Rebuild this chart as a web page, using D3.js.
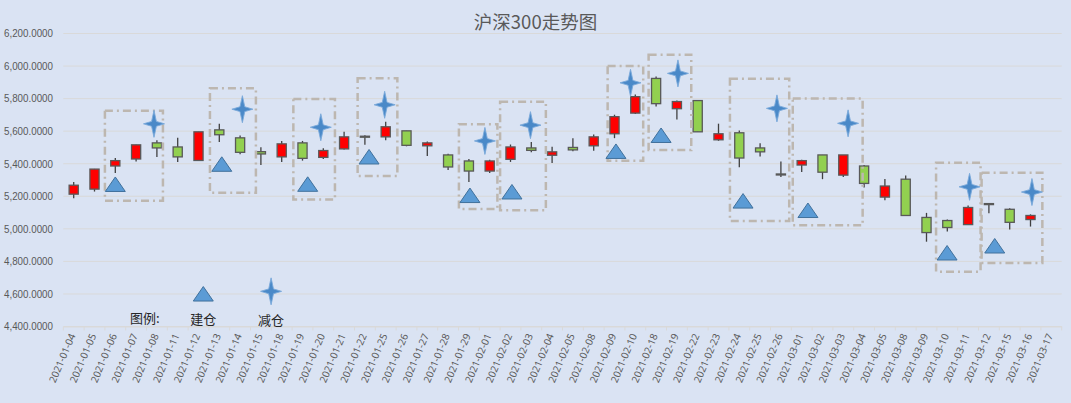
<!DOCTYPE html>
<html><head><meta charset="utf-8">
<script src="https://cdn.jsdelivr.net/npm/d3@7/dist/d3.min.js"></script>
<style>
body{margin:0;background:#DAE3F3;overflow:hidden}
svg{display:block}
</style>
</head><body>
<svg id="chart" width="1071" height="403"></svg>
<script>
// ---------- data ----------
const title = "沪深300走势图";
const dates = ["2021-01-04","2021-01-05","2021-01-06","2021-01-07","2021-01-08","2021-01-11","2021-01-12","2021-01-13","2021-01-14","2021-01-15",
"2021-01-18","2021-01-19","2021-01-20","2021-01-21","2021-01-22","2021-01-25","2021-01-26","2021-01-27","2021-01-28","2021-01-29",
"2021-02-01","2021-02-02","2021-02-03","2021-02-04","2021-02-05","2021-02-08","2021-02-09","2021-02-10","2021-02-18","2021-02-19",
"2021-02-22","2021-02-23","2021-02-24","2021-02-25","2021-02-26","2021-03-01","2021-03-02","2021-03-03","2021-03-04","2021-03-05",
"2021-03-08","2021-03-09","2021-03-10","2021-03-11","2021-03-12","2021-03-15","2021-03-16","2021-03-17"];
const opens  = [5213,5244,5386,5429,5528,5503,5420,5608,5559,5474, 5442,5528,5439,5491,5569,5565,5602,5510,5454,5417,
                5355,5427,5497,5452,5500,5510,5584,5711,5924,5738, 5788,5547,5590,5497,5337,5392,5454,5330,5386,5195,
                5305,5070,5051,5026,5155,5120,5057,null];
const highs  = [5287,5368,5435,5516,5544,5559,5596,5646,5573,5501, 5540,5540,5495,5596,5575,5658,5602,5536,5462,5429,
                5425,5518,5534,5505,5556,5579,5701,5825,5936,5788, 5788,5646,5604,5526,5414,5425,5454,5454,5392,5306,
                5327,5098,5057,5144,5155,5126,5089,null];
const lows   = [5188,5229,5343,5414,5442,5411,5417,5534,5458,5392, 5411,5419,5429,5487,5516,5544,5507,5448,5361,5287,
                5343,5411,5470,5404,5476,5479,5557,5705,5752,5672, 5596,5541,5379,5445,5318,5349,5305,5318,5254,5176,
                5082,4921,4983,5026,5096,4996,5014,null];
const closes = [5268,5367,5419,5516,5497,5442,5596,5578,5470,5460, 5522,5433,5481,5565,5569,5627,5513,5528,5380,5355,
                5417,5503,5482,5473,5485,5565,5689,5812,5769,5782, 5596,5584,5435,5473,5336,5419,5348,5454,5279,5263,
                5082,4977,5008,5131,5154,5040,5082,null];
const yTicks = [4400,4600,4800,5000,5200,5400,5600,5800,6000,6200];

// 建仓 markers: category position (fractional index) and value
const buyPos = [2.0, 7.12, 11.25, 14.2, 19.05, 21.07, 26.07, 28.24, 32.18, 35.3, 41.99, 44.28];
const buyVal = [5274, 5398, 5275, 5443, 5206, 5228, 5477, 5575, 5172, 5114, 4853, 4896];
// 减仓 markers
const sellPos = [3.86, 8.11, 11.88, 14.95, 19.77, 21.96, 26.77, 29.05, 33.81, 37.23, 43.07, 46.07];
const sellVal = [5645, 5735, 5624, 5762, 5540, 5637, 5897, 5955, 5740, 5648, 5258, 5226];
// dashed boxes: from/to category position, top/bottom value
const boxFrom   = [1.50, 6.55, 10.56, 13.65, 18.52, 20.50, 25.67, 27.64, 31.55, 34.57, 41.46, 43.65];
const boxTo     = [4.29, 8.76, 12.56, 15.56, 20.37, 22.70, 27.38, 29.69, 34.40, 37.93, 43.60, 46.57];
const boxTop    = [5726, 5863, 5798, 5925, 5642, 5781, 6000, 6070, 5922, 5800, 5406, 5345];
const boxBottom = [5173, 5222, 5180, 5325, 5122, 5114, 5419, 5484, 5048, 5022, 4737, 4790];
// legend
const legendLabel = "图例:";
const legendNames = ["建仓", "减仓"];
const legendPos = [6.23, 9.49];
const legendVal = [4601, 4616];

// ---------- layout ----------
const W = 1071, H = 403;
const L = 63.3, R = 1061.7, T = 33.5, B = 326.5;
const svg = d3.select("#chart");
svg.append("rect").attr("width", W).attr("height", H).attr("fill", "#DAE3F3");

const x = d3.scaleBand().domain(dates).range([L, R]).padding(0);
const xp = d3.scaleLinear().domain([-0.5, dates.length - 0.5]).range([L, R]);
const y = d3.scaleLinear().domain([4400, 6200]).range([B, T]);

// gridlines
svg.append("g").selectAll("line").data(yTicks).join("line")
  .attr("x1", L).attr("x2", R)
  .attr("y1", d => y(d)).attr("y2", d => y(d))
  .attr("stroke", "#D9D9D9").attr("stroke-width", 1);

// y axis labels
const fmt = d3.format(",.4f");
const yl = svg.append("g").selectAll("text").data(yTicks).join("text")
  .attr("x", 53).attr("y", d => y(d)).attr("dy", "0.35em")
  .attr("text-anchor", "end")
  .style("font-family", "'Liberation Sans Narrow','Liberation Sans',Arial,sans-serif")
  .style("font-size", "11px").attr("fill", "#595959")
  .text(d => fmt(d));
const wy = yl.node().getComputedTextLength();
if (wy > 50) yl.attr("textLength", 49).attr("lengthAdjust", "spacingAndGlyphs");

// x axis
const xAxis = svg.append("g").attr("transform", `translate(0,${B})`)
  .call(d3.axisBottom(x).tickSize(0).tickSizeOuter(0));
xAxis.select(".domain").attr("stroke", "#D9D9D9");
xAxis.selectAll(".tick text")
  .attr("x", 2).attr("y", 9).attr("dy", 0)
  .attr("text-anchor", "end")
  .attr("transform", "rotate(-67,2,9)")
  .style("font-family", "'Noto Sans',sans-serif").style("font-size", "10px")
  .attr("fill", "#595959");
svg.append("g").selectAll("line").data(d3.range(dates.length + 1)).join("line")
  .attr("x1", i => xp(i - 0.5)).attr("x2", i => xp(i - 0.5))
  .attr("y1", B).attr("y2", B + 4)
  .attr("stroke", "#D9D9D9").attr("stroke-width", 1);

// candles
const idx = d3.range(dates.length).filter(i => opens[i] != null);
const bw = x.bandwidth() * 0.44;
const cg = svg.append("g");
cg.selectAll("line").data(idx).join("line")
  .attr("x1", i => x(dates[i]) + x.bandwidth() / 2)
  .attr("x2", i => x(dates[i]) + x.bandwidth() / 2)
  .attr("y1", i => y(highs[i])).attr("y2", i => y(lows[i]))
  .attr("stroke", "#404040").attr("stroke-width", 1.3);
cg.selectAll("rect").data(idx).join("rect")
  .attr("x", i => x(dates[i]) + x.bandwidth() / 2 - bw / 2)
  .attr("width", bw)
  .attr("y", i => y(Math.max(opens[i], closes[i])))
  .attr("height", i => Math.max(1, Math.abs(y(opens[i]) - y(closes[i]))))
  .attr("fill", i => closes[i] > opens[i] ? "#FF0000" : "#92D050")
  .attr("stroke", "#595959").attr("stroke-width", 1.3);

// dashed boxes
svg.append("g").selectAll("rect").data(d3.range(boxFrom.length)).join("rect")
  .attr("x", i => xp(boxFrom[i])).attr("width", i => xp(boxTo[i]) - xp(boxFrom[i]))
  .attr("y", i => y(boxTop[i])).attr("height", i => y(boxBottom[i]) - y(boxTop[i]))
  .attr("fill", "none").attr("stroke", "#BDB7B0").attr("stroke-width", 2.5)
  .attr("stroke-dasharray", "8,4,2,4");

// marker shapes
const tw = 20, th = 14.5;
const triPath = `M0,${-th/2}L${tw/2},${th/2}L${-tw/2},${th/2}Z`;
const sw = 21, sh = 27, k = 2.4;
const starPath = `M0,${-sh/2}L${k},${-k}L${sw/2},0L${k},${k}L0,${sh/2}L${-k},${k}L${-sw/2},0L${-k},${-k}Z`;
function tri(g, px, v) {
  g.append("path").attr("d", triPath)
    .attr("transform", `translate(${xp(px)},${y(v)})`)
    .attr("fill", "#5B9BD5").attr("stroke", "#41719C").attr("stroke-width", 1);
}
function star(g, px, v) {
  g.append("path").attr("d", starPath)
    .attr("transform", `translate(${xp(px)},${y(v)})`)
    .attr("fill", "#4A89C8").attr("stroke", "#7BA9DA").attr("stroke-width", 0.9)
    .attr("stroke-linejoin", "round");
}
const mg = svg.append("g");
buyPos.forEach((p, i) => tri(mg, p, buyVal[i]));
sellPos.forEach((p, i) => star(mg, p, sellVal[i]));

// legend
tri(mg, legendPos[0], legendVal[0]);
star(mg, legendPos[1], legendVal[1]);
const lf = "'Noto Sans CJK SC','Noto Sans',sans-serif";
svg.append("text").attr("x", 130).attr("y", 323).text(legendLabel)
  .style("font-family", lf).style("font-size", "13px").attr("fill", "#262626");
svg.append("text").attr("x", xp(legendPos[0])).attr("y", 324).attr("text-anchor", "middle").text(legendNames[0])
  .style("font-family", lf).style("font-size", "13px").attr("fill", "#262626");
svg.append("text").attr("x", xp(legendPos[1])).attr("y", 325).attr("text-anchor", "middle").text(legendNames[1])
  .style("font-family", lf).style("font-size", "13px").attr("fill", "#262626");

// title
svg.append("text").attr("x", 535.5).attr("y", 28.5).attr("text-anchor", "middle")
  .text(title).style("font-family", lf).style("font-size", "18.5px").attr("fill", "#595959");
</script>
</body></html>
